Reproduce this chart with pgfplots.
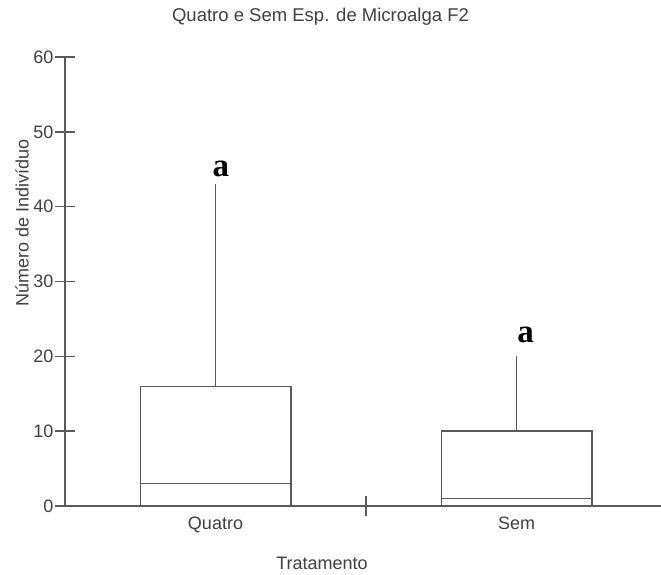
\documentclass[border=0pt]{standalone}
\usepackage{fontspec}
\setmainfont{Liberation Sans}
\newfontfamily\timesf{Liberation Serif}
\usepackage{pgfplots}
\pgfplotsset{compat=1.18}
\usepgfplotslibrary{statistics}
\definecolor{lc}{RGB}{90,90,90}
\definecolor{tc}{RGB}{64,64,64}
\begin{document}
\begin{tikzpicture}[x=1pt,y=1pt]
\useasboundingbox (0,0) rectangle (661,574);
\begin{axis}[
  at={(65pt,68pt)}, anchor=south west,
  scale only axis, width=596pt, height=449pt,
  xmin=0.5, xmax=2.480, ymin=0, ymax=60,
  axis lines*=left,
  axis line style={draw=lc, line width=1.4pt},
  ytick={0,10,...,60},
  tick align=center, major tick length=20pt,
  tick style={draw=lc, line width=1.4pt},
  xtick={1.5}, xticklabels={},
  extra x ticks={1,2}, extra x tick labels={Quatro,Sem},
  extra x tick style={major tick length=0pt},
  ticklabel style={font=\fontsize{18}{20}\selectfont, text=tc},
  xticklabel style={yshift=-7pt},
  yticklabel style={xshift=2pt},
  /pgf/number format/assume math mode=true,
  boxplot/draw direction=y,
  boxplot/every box/.style={draw=lc, line width=1.5pt},
  boxplot/every whisker/.style={draw=lc, line width=1.5pt},
  boxplot/every median/.style={draw=lc, line width=1.5pt},
  clip=false,
]
\addplot[draw=lc, line width=1.5pt, boxplot prepared={draw position=1, lower whisker=0, lower quartile=0, median=3, upper quartile=16, upper whisker=43, box extend=0.5, whisker extend=0}] coordinates {};
\addplot[draw=lc, line width=1.5pt, boxplot prepared={draw position=2, lower whisker=0, lower quartile=0, median=1, upper quartile=10, upper whisker=20, box extend=0.5, whisker extend=0}] coordinates {};
\node[font=\timesf\bfseries\fontsize{33}{36}\selectfont, inner sep=0pt] at (axis cs:1.018,45.0) {a};
\node[font=\timesf\bfseries\fontsize{33}{36}\selectfont, inner sep=0pt] at (axis cs:2.030,22.85) {a};
\end{axis}
\node[font=\fontsize{18.5}{21}\selectfont, text=tc] at (320.5,557) {Quatro e Sem Esp. de Microalga F2};
\node[font=\fontsize{18}{20}\selectfont, text=tc, rotate=90] at (22,351) {Número de Indivíduo};
\node[font=\fontsize{18}{20}\selectfont, text=tc] at (322,11) {Tratamento};
\end{tikzpicture}
\end{document}
